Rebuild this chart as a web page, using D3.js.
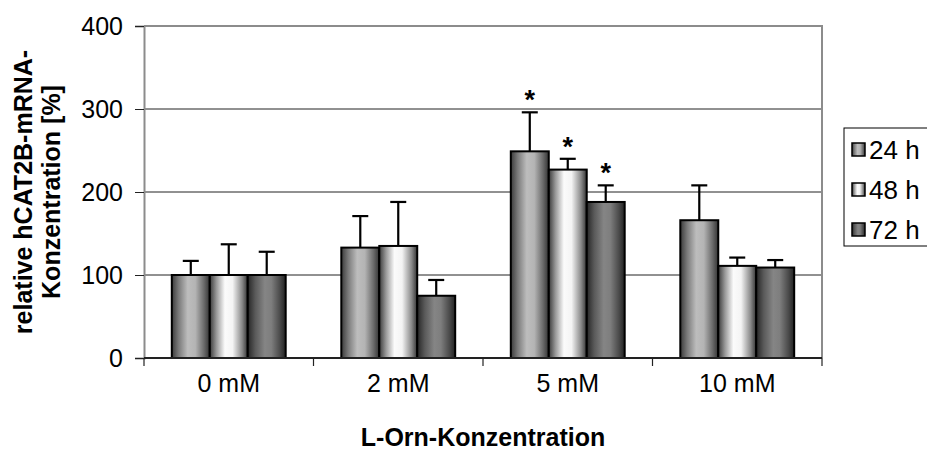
<!DOCTYPE html>
<html>
<head>
<meta charset="utf-8">
<script src="https://cdn.jsdelivr.net/npm/d3@7"></script>
<style>
  html, body { margin: 0; padding: 0; background: #fff; }
  svg { display: block; }
  text { font-family: "Liberation Sans", Arial, sans-serif; fill: #000; }
</style>
</head>
<body>
<svg id="chart" width="927" height="453"></svg>
<script>
// Categories (L-ornithine concentration) and time points
const categories = ["0 mM", "2 mM", "5 mM", "10 mM"];
const seriesNames = ["24 h", "48 h", "72 h"];

// Mean relative hCAT2B mRNA level [%] per series, one value per category
const values24h = [100, 133, 249, 166];
const values48h = [100, 135, 227, 111];
const values72h = [100, 75, 188, 109];

// Upper end of the error bar (mean + SD) per series
const errTop24h = [117, 171, 296, 208];
const errTop48h = [137, 188, 240, 121];
const errTop72h = [128, 94, 208, 118];

// Significance markers (1 = "*")
const signif24h = [0, 0, 1, 0];
const signif48h = [0, 0, 1, 0];
const signif72h = [0, 0, 1, 0];

const yTicks = [0, 100, 200, 300, 400];

const series = [
  { name: seriesNames[0], values: values24h, err: errTop24h, sig: signif24h },
  { name: seriesNames[1], values: values48h, err: errTop48h, sig: signif48h },
  { name: seriesNames[2], values: values72h, err: errTop72h, sig: signif72h }
];

const FS = "25px";
const svg = d3.select("#chart");
const plot = { left: 144, right: 822, top: 26, bottom: 358 };

// Shaded cylinder-like fills for each series
const defs = svg.append("defs");
const gradStops = [
  [["0%", "#3a3a3a"], ["18%", "#7a7a7a"], ["42%", "#bdbdbd"], ["62%", "#b4b4b4"], ["85%", "#6a6a6a"], ["100%", "#333"]],
  [["0%", "#3a3a3a"], ["18%", "#9a9a9a"], ["40%", "#fbfbfb"], ["60%", "#f4f4f4"], ["85%", "#8a8a8a"], ["100%", "#333"]],
  [["0%", "#262626"], ["20%", "#5a5a5a"], ["45%", "#858585"], ["62%", "#7e7e7e"], ["85%", "#4a4a4a"], ["100%", "#222"]]
];
gradStops.forEach((stops, i) => {
  const g = defs.append("linearGradient").attr("id", "grad" + i)
    .attr("x1", "0%").attr("x2", "100%").attr("y1", "0%").attr("y2", "0%");
  stops.forEach(s => g.append("stop").attr("offset", s[0]).attr("stop-color", s[1]));
});

const x0 = d3.scaleBand().domain(categories).range([plot.left, plot.right]).paddingInner(0).paddingOuter(0);
// Bars fill ~67% of each category slot, centred
const groupFrac = 0.672;
const x1 = d3.scaleBand().domain(seriesNames)
  .range([0, x0.bandwidth() * groupFrac]);
const groupOffset = x0.bandwidth() * (1 - groupFrac) / 2;

const y = d3.scaleLinear().domain([0, 400]).range([plot.bottom, plot.top]);

// Gridlines
svg.append("g").selectAll("line").data(yTicks.filter(t => t > 0 && t < 400)).join("line")
  .attr("x1", plot.left).attr("x2", plot.right)
  .attr("y1", d => y(d)).attr("y2", d => y(d))
  .attr("stroke", "#222").attr("stroke-width", 1);

// Plot frame (top and right)
svg.append("path")
  .attr("d", `M${plot.left},${plot.top}H${plot.right}V${plot.bottom}`)
  .attr("fill", "none").attr("stroke", "#8c8c8c").attr("stroke-width", 2);

// Bars
const groups = svg.append("g").selectAll("g").data(categories).join("g")
  .attr("transform", d => `translate(${x0(d) + groupOffset},0)`);

series.forEach((s, si) => {
  groups.append("rect")
    .attr("x", x1(s.name))
    .attr("y", (d, i) => y(s.values[i]))
    .attr("width", x1.bandwidth())
    .attr("height", (d, i) => y(0) - y(s.values[i]))
    .attr("fill", `url(#grad${si})`)
    .attr("stroke", "#000").attr("stroke-width", 2);

  // Upper error bars
  groups.append("line")
    .attr("x1", x1(s.name) + x1.bandwidth() / 2)
    .attr("x2", x1(s.name) + x1.bandwidth() / 2)
    .attr("y1", (d, i) => y(s.values[i]))
    .attr("y2", (d, i) => y(s.err[i]))
    .attr("stroke", "#000").attr("stroke-width", 2.2);
  groups.append("line")
    .attr("x1", x1(s.name) + x1.bandwidth() / 2 - 8)
    .attr("x2", x1(s.name) + x1.bandwidth() / 2 + 8)
    .attr("y1", (d, i) => y(s.err[i]))
    .attr("y2", (d, i) => y(s.err[i]))
    .attr("stroke", "#000").attr("stroke-width", 2.2);

  // Significance stars
  groups.filter((d, i) => s.sig[i])
    .append("text")
    .attr("x", x1(s.name) + x1.bandwidth() / 2)
    .attr("y", d => y(s.err[categories.indexOf(d)]) - 3)
    .attr("text-anchor", "middle")
    .style("font-size", "27px").style("font-weight", "bold")
    .text("*");
});

// Y axis
const yAxis = svg.append("g")
  .attr("transform", `translate(${plot.left},0)`)
  .call(d3.axisLeft(y).tickValues(yTicks).tickSize(9).tickPadding(12).tickFormat(d3.format("d")));
yAxis.select(".domain").attr("stroke", "#8c8c8c").attr("stroke-width", 2);
yAxis.selectAll(".tick line").attr("stroke", "#222");
yAxis.selectAll("text").style("font-size", FS).attr("fill", "#000");

// X axis: ticks between categories
const xAxis = svg.append("g").attr("transform", `translate(0,${plot.bottom})`);
xAxis.append("line").attr("x1", plot.left).attr("x2", plot.right)
  .attr("stroke", "#222").attr("stroke-width", 2);
const boundaries = categories.map(c => x0(c)).concat([plot.right]);
xAxis.selectAll("line.tick").data(boundaries).join("line").attr("class", "tick")
  .attr("x1", d => d).attr("x2", d => d).attr("y1", 0).attr("y2", 8)
  .attr("stroke", "#222").attr("stroke-width", 1.2);
xAxis.selectAll("text").data(categories).join("text")
  .attr("x", d => x0(d) + x0.bandwidth() / 2)
  .attr("y", 34)
  .attr("text-anchor", "middle")
  .style("font-size", FS)
  .text(d => d);

// Axis titles
svg.append("text")
  .attr("x", (plot.left + plot.right) / 2).attr("y", 446)
  .attr("text-anchor", "middle")
  .style("font-size", FS).style("font-weight", "bold")
  .text("L-Orn-Konzentration");

const yTitle = svg.append("text")
  .attr("transform", `translate(0,${(plot.top + plot.bottom) / 2}) rotate(-90)`)
  .attr("text-anchor", "middle")
  .style("font-size", FS).style("font-weight", "bold");
yTitle.append("tspan").attr("x", 0).attr("y", 32).text("relative hCAT2B-mRNA-");
yTitle.append("tspan").attr("x", 0).attr("y", 60).text("Konzentration [%]");

// Legend
const legend = svg.append("g").attr("transform", "translate(844,128)");
legend.append("rect").attr("x", 0).attr("y", 0).attr("width", 100).attr("height", 118)
  .attr("fill", "#fff").attr("stroke", "#000").attr("stroke-width", 1);
const items = legend.selectAll("g").data(seriesNames).join("g")
  .attr("transform", (d, i) => `translate(8,${22 + i * 40})`);
items.append("rect").attr("x", 0).attr("y", -7).attr("width", 13).attr("height", 13)
  .attr("fill", (d, i) => `url(#grad${i})`).attr("stroke", "#000").attr("stroke-width", 1.5);
items.append("text").attr("x", 17).attr("y", 9)
  .style("font-size", "26px").text(d => d);
</script>
</body>
</html>
